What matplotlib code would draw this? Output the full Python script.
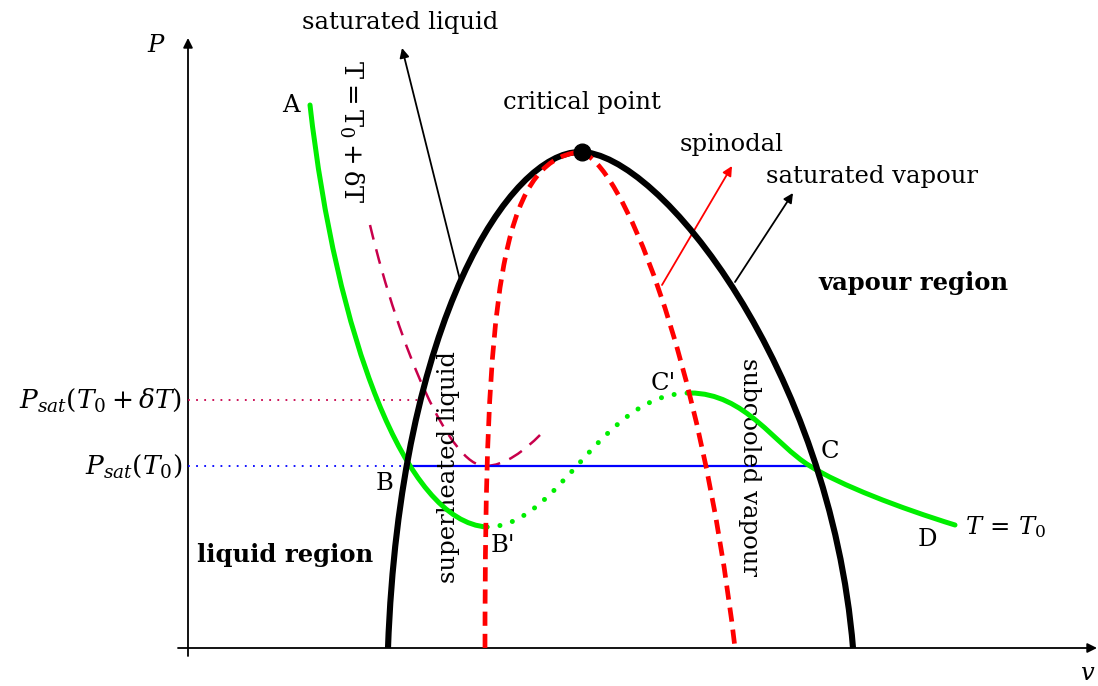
import matplotlib
matplotlib.use('Agg')
import matplotlib.pyplot as plt
from matplotlib.path import Path
from matplotlib.patches import PathPatch, FancyArrowPatch

plt.rcParams['font.family'] = ['DejaVu Serif']
plt.rcParams['mathtext.fontset'] = 'dejavuserif'

# cubic Bezier control points, (x, y) in figure pixels with y pointing down
dome_left = [(388, 648), (400, 320), (510, 152), (580, 152)]
dome_right = [(580, 152), (660, 152), (830, 370), (853, 648)]
spinodal_left = [(485, 648), (485, 300), (500, 160), (580, 152)]
spinodal_right = [(580, 152), (620, 160), (700, 350), (735, 648)]
iso_liquid = [(310, 105), (336, 335), (405, 522), (487, 527)]
iso_metastable = [(487, 527), (560, 527), (600, 393), (690, 393)]
iso_vapour = [(690, 393), (745, 393), (775, 445), (810, 466),
              (840, 485), (900, 508), (955, 525)]
iso_hot = [(370, 225), (400, 350), (450, 466), (485, 466),
           (505, 466), (525, 450), (540, 435)]

critical = (582, 152)
p_sat = 466          # P_sat(T0)
p_sat_hot = 400      # P_sat(T0 + dT)
origin = (188, 648)
x_end, y_end = 1097, 38
B_x, C_x = 410, 810
hot_x = 420

# arrows: (start, end)
arrow_liquid = ((460, 280), (402, 48))
arrow_vapour = ((735, 282), (793, 193))
arrow_spinodal = ((662, 285), (732, 166))

GREEN = '#00ee00'
RED = '#ff0000'
CRIMSON = '#c8004b'
BLUE = '#0000ff'


def bezier(pts):
    codes = [Path.MOVETO] + [Path.CURVE4] * (len(pts) - 1)
    return Path(pts, codes)


def curve(ax, pts, **kw):
    ax.add_patch(PathPatch(bezier(pts), fill=False, **kw))


def arrow(ax, a, b, color='black', lw=1.3, scale=14):
    ax.add_patch(FancyArrowPatch(a, b, arrowstyle='-|>', color=color, lw=lw,
                                 mutation_scale=scale, shrinkA=0, shrinkB=0))


fig = plt.figure(figsize=(10.98, 6.86), dpi=100)
ax = fig.add_axes([0, 0, 1, 1])
ax.set_xlim(0, 1098)
ax.set_ylim(686, 0)
ax.axis('off')

# axes
arrow(ax, (origin[0], origin[1] + 8), (origin[0], y_end), lw=1.3, scale=14)
arrow(ax, (origin[0] - 10, origin[1]), (x_end, origin[1]), lw=1.3, scale=14)

# pressure levels
ax.plot([origin[0], hot_x], [p_sat_hot, p_sat_hot], color=CRIMSON, lw=1.3,
        linestyle=(0, (1, 3.5)))
ax.plot([origin[0], B_x], [p_sat, p_sat], color=BLUE, lw=1.3,
        linestyle=(0, (1, 3.5)))
ax.plot([B_x, C_x], [p_sat, p_sat], color=BLUE, lw=1.6, zorder=3)

# isotherm T0 + dT
curve(ax, iso_hot, edgecolor=CRIMSON, lw=1.8, linestyle=(0, (6, 4)), zorder=2)

# isotherm T0
curve(ax, iso_liquid, edgecolor=GREEN, lw=3.6, zorder=4, capstyle='round')
curve(ax, iso_metastable, edgecolor=GREEN, lw=3.6, zorder=4,
      linestyle=(0, (0.01, 2.6)), capstyle='round')
curve(ax, iso_vapour, edgecolor=GREEN, lw=3.6, zorder=4, capstyle='round')

# saturation dome and spinodal
curve(ax, dome_left, edgecolor='black', lw=4.4, zorder=5)
curve(ax, dome_right, edgecolor='black', lw=4.4, zorder=5)
curve(ax, spinodal_left, edgecolor=RED, lw=3.4, linestyle=(0, (3, 1.7)), zorder=6)
curve(ax, spinodal_right, edgecolor=RED, lw=3.4, linestyle=(0, (3, 1.7)), zorder=6)
ax.plot(*critical, 'o', color='black', ms=12, zorder=7)

arrow(ax, *arrow_liquid)
arrow(ax, *arrow_vapour)
arrow(ax, *arrow_spinodal, color=RED)

fs = 17.5
ax.text(157, 45, '$P$', fontsize=fs, ha='center', va='center')
ax.text(1080, 674, '$v$', fontsize=fs, ha='left', va='center')
ax.text(400, 22, 'saturated liquid', fontsize=fs, ha='center', va='center')
ax.text(582, 103, 'critical point', fontsize=fs, ha='center', va='center')
ax.text(732, 145, 'spinodal', fontsize=fs, ha='center', va='center')
ax.text(872, 176, 'saturated vapour', fontsize=fs, ha='center', va='center')
ax.text(913, 283, 'vapour region', fontsize=fs, ha='center', va='center',
        fontweight='bold')
ax.text(285, 555, 'liquid region', fontsize=fs, ha='center', va='center',
        fontweight='bold')

for s, x, y in [('A', 291, 106), ('B', 385, 483), ("B'", 503, 545),
                ("C'", 663, 383), ('C', 830, 452), ('D', 927, 540)]:
    ax.text(x, y, s, fontsize=fs, ha='center', va='center')

ax.text(965, 527, r'$T\,=\,T_0$', fontsize=fs, ha='left', va='center')
ax.text(182, 400, r'$P_{sat}(T_0 + \delta T)$', fontsize=19, ha='right', va='center')
ax.text(182, 466, r'$P_{sat}(T_0)$', fontsize=19, ha='right', va='center')

ax.text(351, 132, r'$\mathrm{T = T_0 + \delta T}$', fontsize=18.5, rotation=-90,
        ha='center', va='center')
ax.text(448, 467, 'superheated liquid', fontsize=fs, rotation=90,
        ha='center', va='center')
ax.text(750, 467, 'subcooled vapour', fontsize=fs, rotation=-90,
        ha='center', va='center')

fig.savefig('out.png', dpi=100)
